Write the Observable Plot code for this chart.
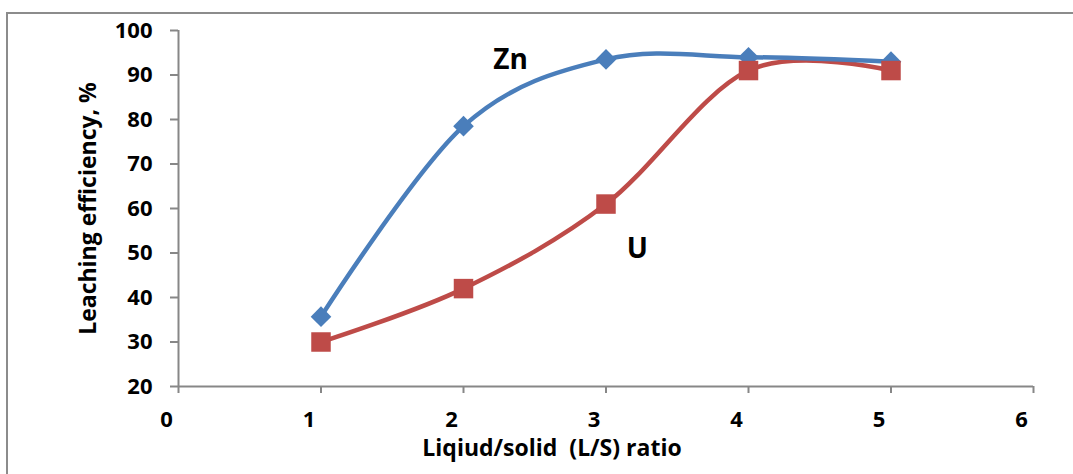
<!DOCTYPE html>
<html>
<head>
<meta charset="utf-8">
<script src="https://cdn.jsdelivr.net/npm/d3@7"></script>
<script src="https://cdn.jsdelivr.net/npm/@observablehq/plot@0.6"></script>
<style>
  html, body { margin: 0; padding: 0; background: #fff; }
  #wrap { position: relative; width: 1073px; height: 474px; overflow: hidden; }
  #border { position: absolute; left: 6px; top: 12px; width: 1100px; height: 500px;
            border-left: 2px solid #8c8c8c; border-top: 2px solid #8c8c8c; }
  #chart { position: absolute; left: 0; top: 0; }
  svg text { font-family: "Open Sans", sans-serif; font-weight: 700; }
</style>
</head>
<body>
<div id="wrap"><div id="border"></div><div id="chart"></div></div>
<script>
// L/S ratio and leaching efficiency (%) per metal
const ratios = [1, 2, 3, 4, 5];
const znEfficiency = [35.7, 78.5, 93.5, 94.0, 93.0];
const uEfficiency = [30.0, 42.0, 61.0, 91.0, 91.0];

const xTicks = [0, 1, 2, 3, 4, 5, 6];
const yTicks = [20, 30, 40, 50, 60, 70, 80, 90, 100];

// Series labels placed next to their curves (data units)
const seriesLabels = [
  {name: "Zn", x: 2.33, y: 93.3},
  {name: "U", x: 3.22, y: 51.0}
];

const xTitle = "Liqiud/solid\u00a0 (L/S) ratio";
const yTitle = "Leaching efficiency, %";

const blue = "#4a7ebb";
const red = "#be4b48";
const axisGray = "#878787";

const zn = ratios.map((r, i) => ({x: r, y: znEfficiency[i]}));
const u = ratios.map((r, i) => ({x: r, y: uEfficiency[i]}));

const fmt = (d) => String(d);
const blank = () => "";

const chart = Plot.plot({
  width: 1073,
  height: 474,
  marginLeft: 178,
  marginRight: 40,
  marginTop: 30,
  marginBottom: 88,
  style: {background: "transparent", color: "#000", overflow: "visible"},
  x: {domain: [0, 6]},
  y: {domain: [20, 100]},
  marks: [
    // tick marks
    Plot.axisX({ticks: xTicks, tickSize: 7, stroke: axisGray, strokeWidth: 2,
                tickFormat: blank, label: null}),
    Plot.axisY({ticks: yTicks, tickSize: 8, stroke: axisGray, strokeWidth: 2,
                tickFormat: blank, label: null}),
    // tick labels (x labels sit slightly left of their ticks)
    Plot.axisX({ticks: xTicks, tickSize: 0, tickPadding: 25, dx: -12, fontSize: 22,
                fill: "#000", tickFormat: fmt, label: null}),
    Plot.axisY({ticks: yTicks, tickSize: 0, tickPadding: 26, fontSize: 22,
                fill: "#000", tickFormat: fmt, label: null}),
    Plot.ruleY([20], {stroke: axisGray, strokeWidth: 2}),
    Plot.ruleX([0], {stroke: axisGray, strokeWidth: 2}),
    Plot.line(u, {x: "x", y: "y", stroke: red, strokeWidth: 4.5, curve: "cardinal"}),
    Plot.line(zn, {x: "x", y: "y", stroke: blue, strokeWidth: 4.5, curve: "cardinal"}),
    Plot.dot(zn, {x: "x", y: "y", symbol: "diamond2", r: 9.3, fill: blue, stroke: "none"}),
    Plot.dot(u, {x: "x", y: "y", symbol: "square", r: 11, fill: red, stroke: "none"}),
    Plot.text(seriesLabels, {x: "x", y: "y", text: "name", fontSize: 28, fill: "#000"}),
    Plot.text([xTitle], {frameAnchor: "bottom", dx: -54, dy: 69, fontSize: 23, fill: "#000"}),
    Plot.text([yTitle], {frameAnchor: "left", textAnchor: "middle", dx: -90, rotate: -90,
                         fontSize: 23, fill: "#000"})
  ]
});

document.getElementById("chart").appendChild(chart);
</script>
</body>
</html>
